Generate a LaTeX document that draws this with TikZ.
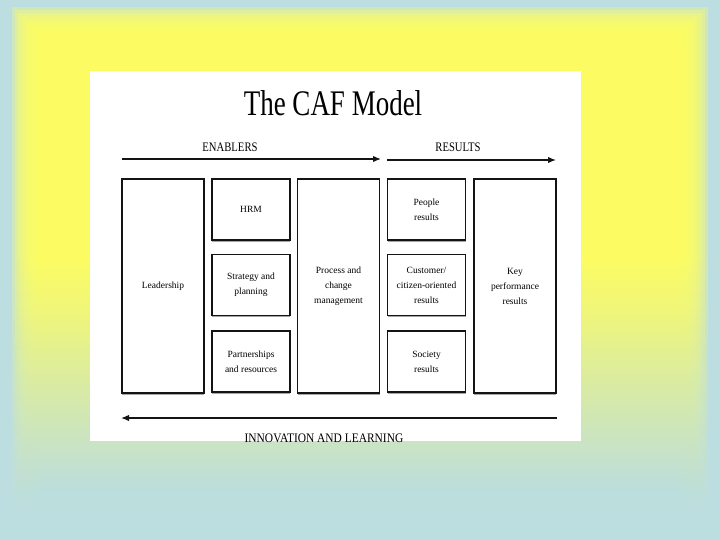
\documentclass[tikz,border=0pt]{standalone}
\usepackage{fontspec}
\setmainfont{Liberation Serif}
\usepackage{graphicx}
\usetikzlibrary{shadows,positioning,arrows.meta}
\definecolor{bgteal}{RGB}{188,222,224}
\definecolor{bgyellow}{RGB}{255,255,96}
\definecolor{darkline}{RGB}{20,20,20}
\pgfdeclareverticalshading{yellowglow}{100bp}{color(0bp)=(bgteal); color(26bp)=(bgteal);
  color(31bp)=(bgteal!80!bgyellow); color(38bp)=(bgteal!50!bgyellow);
  color(45bp)=(bgteal!20!bgyellow); color(51bp)=(bgyellow); color(100bp)=(bgyellow)}
\newcommand{\cafsq}[2]{\scalebox{#1}[1]{#2}}

\begin{document}
\begin{tikzpicture}[x=1pt,y=-1pt,
    cafbox/.style={draw=darkline, line width=1.3pt, fill=white, inner sep=0pt,
      align=center, font=\fontsize{9.5}{15}\selectfont,
      drop shadow={shadow xshift=0.4pt, shadow yshift=-1.6pt, fill=black!35, opacity=1}},
    tallbox/.style={cafbox, minimum width=82pt, minimum height=214pt},
    smallbox/.style={cafbox, minimum width=78pt, minimum height=61pt},
    heading/.style={inner sep=0pt, font=\fontsize{13}{13}\selectfont},
    flow/.style={line width=1.4pt, draw=darkline, -{Latex[length=8pt,width=6.5pt]}}]
        \useasboundingbox (0,0) rectangle (720,540);
        %Background
        \fill[bgteal] (0,0) rectangle (720,540);
        \foreach \i in {0,...,9}
          \shade[shading=yellowglow, fill opacity=0.3]
            ({12+3*\i},{8+3*\i}) rectangle ({708-3*\i},{525-3*\i});
        \fill[white] (90,71) rectangle (581,441);
        %Title and headings
        \node[inner sep=0pt, font=\fontsize{36}{36}\selectfont] (title) at (333,103) {\cafsq{0.75}{The CAF Model}};
        \node[heading] (enab) at (230,147) {\cafsq{0.82}{ENABLERS}};
        \node[heading] (res) at (458,147) {\cafsq{0.82}{RESULTS}};
        \node[heading] (innov) at (324,438) {\cafsq{0.88}{INNOVATION AND LEARNING}};
        %Arrow ends
        \coordinate (enA) at (122,159);
        \coordinate (enB) at (381,159);
        \coordinate (reA) at (387,160);
        \coordinate (reB) at (556,160);
        \coordinate (inA) at (557,418);
        \coordinate (inB) at (121,418);
        %Boxes
        \node[tallbox] (lead) at (163,286) {Leadership};
        \node[smallbox] (hrm) at (251,209.5) {HRM};
        \node[smallbox] (strat) at (251,285) {Strategy and\\planning};
        \node[smallbox] (partn) at (251,361.5) {Partnerships\\and resources};
        \node[tallbox] (proc) at (338.5,286) {Process and\\change\\management};
        \node[smallbox] (people) at (426.5,209.5) {People\\results};
        \node[smallbox] (cust) at (426.5,285) {Customer/\\citizen-oriented\\results};
        \node[smallbox] (soc) at (426.5,361.5) {Society\\results};
        \node[tallbox] (kpr) at (515,286) {Key\\performance\\results};
        %Arrows
        \draw[flow] (enA) -- (enB);
        \draw[flow] (reA) -- (reB);
        \draw[flow] (inA) -- (inB);
\end{tikzpicture}
\end{document}
